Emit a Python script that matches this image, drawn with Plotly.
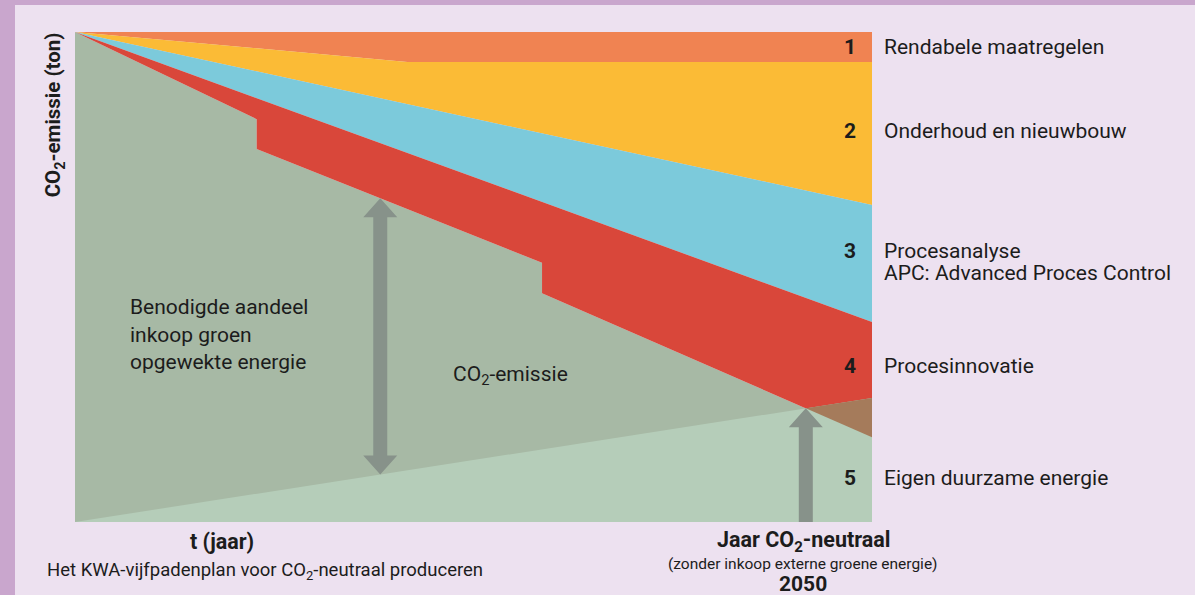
import plotly.graph_objects as go

# ---------------- data (unitless scale: t 0..100, emission 0..100) ----------------
top_x = [0, 100]
top_y = [100, 100]
orange_x = [0, 41.7, 100]          # bottom of path 1 (rendabele maatregelen)
orange_y = [100, 93.9, 93.9]
yellow_x = [0, 100]                # bottom of path 2 (onderhoud en nieuwbouw)
yellow_y = [100, 64.7]
cyan_x = [0, 100]                  # bottom of path 3 (procesanalyse / APC)
cyan_y = [100, 40.8]
emission_x = [0, 22.8, 22.8, 58.6, 58.6, 100]   # bottom of path 4 = CO2 emission
emission_y = [100, 82.2, 76.1, 52.9, 46.7, 17.3]
green_x = [0, 100]                 # top of path 5 (eigen duurzame energie)
green_y = [0, 25.3]
arrow1_x = 38.3                    # double arrow "benodigde aandeel"

path_numbers = ["1", "2", "3", "4", "5"]
path_labels = ["Rendabele maatregelen", "Onderhoud en nieuwbouw",
               "Procesanalyse", "Procesinnovatie", "Eigen duurzame energie"]
path_label_y = [96.9, 79.8, 55.3, 31.8, 9.0]

C_ORANGE = "#f08352"
C_YELLOW = "#fbbb36"
C_CYAN = "#7ccadb"
C_RED = "#d9473a"
C_EMIS = "#a7b9a5"
C_GREEN = "#b5cdb9"
C_BROWN = "#a57b5b"
C_ARROW = "#87928a"
C_PANEL = "#ede1f0"
C_BORDER = "#c9a6cd"

# ---------------- helpers ----------------
def interp(xs, ys, x):
    for i in range(len(xs) - 1):
        x0, x1 = xs[i], xs[i + 1]
        if x0 <= x <= x1 and x1 != x0:
            return ys[i] + (ys[i + 1] - ys[i]) * (x - x0) / (x1 - x0)
    return ys[-1]

def band(upper_x, upper_y, lower_x, lower_y):
    px = list(upper_x) + list(reversed(lower_x))
    py = list(upper_y) + list(reversed(lower_y))
    return px, py

# intersection of emission line (last segment) with green line
ex0, ey0, ex1, ey1 = emission_x[-2], emission_y[-2], emission_x[-1], emission_y[-1]
gs = (green_y[1] - green_y[0]) / (green_x[1] - green_x[0])
es = (ey1 - ey0) / (ex1 - ex0)
ix = (ey0 - es * ex0 - green_y[0]) / (gs - es)
iy = green_y[0] + gs * ix

fig = go.Figure()

def poly(xs, ys, color):
    fig.add_trace(go.Scatter(x=xs, y=ys, fill="toself", fillcolor=color,
                             mode="lines", line=dict(width=0, color=color),
                             hoverinfo="skip", showlegend=False))

# emission area (below emission line)
poly(*band(emission_x, emission_y, [0, 100], [0, 0]), C_EMIS)
# path 1-4 bands
poly(*band(top_x, top_y, orange_x, orange_y), C_ORANGE)
poly(*band(orange_x, orange_y, yellow_x, yellow_y), C_YELLOW)
poly(*band(yellow_x, yellow_y, cyan_x, cyan_y), C_CYAN)
poly(*band(cyan_x, cyan_y, emission_x, emission_y), C_RED)
# path 5: own sustainable energy
poly(*band(green_x, green_y, [0, 100], [0, 0]), C_GREEN)
# overlap after neutrality year
poly([ix, green_x[1], ex1, ix], [iy, green_y[1], ey1, iy], C_BROWN)

# ---------------- arrows (polygons in data space) ----------------
PX_X = 797 / 100.0
PX_Y = 490 / 100.0
shaft = 7 / PX_X
head_w = 17 / PX_X
head_h = 19 / PX_Y

def up_arrow(x, y0, y1, double=False):
    if double:
        xs = [x, x + head_w, x + shaft, x + shaft, x + head_w, x, x - head_w, x - shaft, x - shaft, x - head_w, x]
        ys = [y0, y0 + head_h, y0 + head_h, y1 - head_h, y1 - head_h, y1, y1 - head_h, y1 - head_h, y0 + head_h, y0 + head_h, y0]
    else:
        xs = [x - shaft, x + shaft, x + shaft, x + head_w, x, x - head_w, x - shaft, x - shaft]
        ys = [y0, y0, y1 - head_h, y1 - head_h, y1, y1 - head_h, y1 - head_h, y0]
    poly(xs, ys, C_ARROW)

a1_bottom = interp(green_x, green_y, arrow1_x)
a1_top = interp(emission_x[2:4], emission_y[2:4], arrow1_x)
up_arrow(arrow1_x, a1_bottom, a1_top, double=True)
up_arrow(ix, 0, iy)

# ---------------- texts (paper coords: data/100) ----------------
FONT = "Roboto"
DARK = "#1c1c1c"
ann = []

def text(x, y, s, size, bold=False, xanchor="left", yanchor="middle", angle=0, color=DARK):
    if bold:
        s = "<b>" + s + "</b>"
    ann.append(dict(x=x / 100.0, y=y / 100.0, xref="paper", yref="paper", text=s, showarrow=False,
                    xanchor=xanchor, yanchor=yanchor, textangle=angle,
                    font=dict(family=FONT, size=size, color=color)))

for num, lab, y in zip(path_numbers, path_labels, path_label_y):
    text(98.2, y, num, 21, bold=True, xanchor="right")
    text(101.3, y, lab, 21)
text(101.3, path_label_y[2] - 4.4, "APC: Advanced Proces Control", 21)

text(6.6, 43.9, "Benodigde aandeel", 21)
text(6.6, 38.2, "inkoop groen", 21)
text(6.6, 32.7, "opgewekte energie", 21)
text(47.2, 30.0, "CO<sub>2</sub>-emissie", 21)

text(-2.6, 100.3, "CO<sub>2</sub>-emissie (ton)", 20.5, bold=True, xanchor="center", yanchor="top", angle=-90)
text(18.5, -3.9, "t (jaar)", 21.5, bold=True, xanchor="center")
text(91.4, -3.9, "Jaar CO<sub>2</sub>-neutraal", 21.5, bold=True, xanchor="center")
text(91.3, -8.6, "(zonder inkoop externe groene energie)", 15.5, xanchor="center")
text(91.4, -12.6, "2050", 21, bold=True, xanchor="center")
text(-3.8, -10.0, "Het KWA-vijfpadenplan voor CO<sub>2</sub>-neutraal produceren", 18.5)

# ---------------- border (purple frame at left and top) ----------------
shapes = [
    dict(type="rect", xref="paper", yref="paper", x0=-0.12, x1=-75 / 797 + 15 / 797,
         y0=-0.2, y1=1.2, fillcolor=C_BORDER, line=dict(width=0), layer="below"),
    dict(type="rect", xref="paper", yref="paper", x0=-0.12, x1=1.5,
         y0=(522 - 5) / 490, y1=1.2, fillcolor=C_BORDER, line=dict(width=0), layer="below"),
]

fig.update_layout(
    width=1195, height=595,
    margin=dict(l=75, r=323, t=32, b=73),
    paper_bgcolor=C_PANEL, plot_bgcolor=C_PANEL,
    xaxis=dict(range=[0, 100], visible=False, fixedrange=True),
    yaxis=dict(range=[0, 100], visible=False, fixedrange=True),
    annotations=ann, shapes=shapes, showlegend=False,
    font=dict(family=FONT, color=DARK),
)

fig.write_html("out.html", config={"displayModeBar": False},
               post_script="document.body.style.margin='0';document.body.style.overflow='hidden';")
